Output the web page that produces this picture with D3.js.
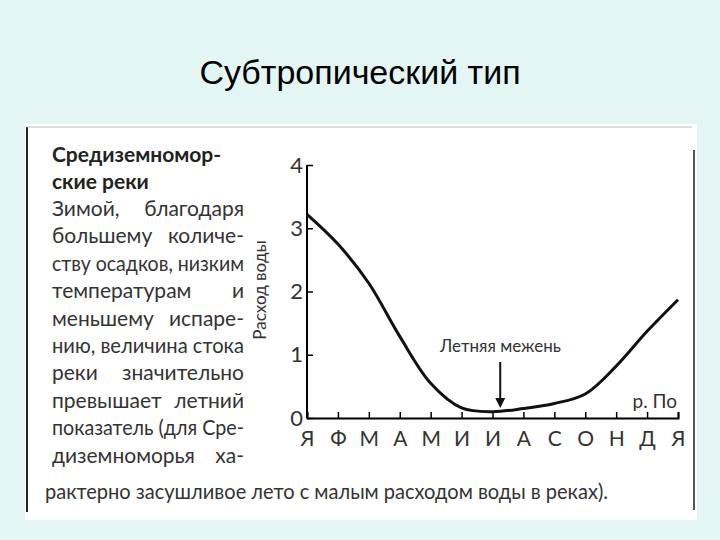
<!DOCTYPE html>
<html><head><meta charset="utf-8">
<script src="https://cdn.jsdelivr.net/npm/d3@7"></script>
<style>body{margin:0;background:#e4f6f4}svg{display:block}</style>
</head><body><svg id="c" width="720" height="540"></svg>
<script>
// months (x ticks) and flow values
var months = ["Я","Ф","М","А","М","И","И","А","С","О","Н","Д","Я"];
var flow = [3.22, 2.75, 2.13, 1.29, 0.55, 0.16, 0.10, 0.15, 0.23, 0.38, 0.82, 1.37, 1.87];
var yTicks = [0, 1, 2, 3, 4];
var textLines = [
  "Зимой, благодаря", "большему количе-", "ству осадков, низким",
  "температурам и", "меньшему испаре-", "нию, величина стока",
  "реки значительно", "превышает летний", "показатель (для Сре-",
  "диземноморья ха-"
];

var svg = d3.select("#c");
svg.append("text").attr("x", 360).attr("y", 84).attr("text-anchor", "middle")
  .style("font-family", "Liberation Sans, Arial").style("font-size", "34px").text("Субтропический тип");

svg.append("rect").attr("x", 25).attr("y", 124).attr("width", 672).attr("height", 396).attr("fill", "#fff");
svg.append("line").attr("x1", 27).attr("x2", 27).attr("y1", 127).attr("y2", 512).attr("stroke", "#222").attr("stroke-width", 2);
svg.append("line").attr("x1", 27).attr("x2", 692).attr("y1", 127).attr("y2", 127).attr("stroke", "#bbb").attr("stroke-width", 1);
svg.append("line").attr("x1", 694).attr("x2", 694).attr("y1", 150).attr("y2", 510).attr("stroke", "#555").attr("stroke-width", 2);

var font = "Lato, DejaVu Sans, sans-serif";
var W = 192;
svg.append("text").attr("x", 52).attr("y", 162).style("font-family", font).style("font-weight", "bold")
  .style("font-size", "21px").attr("fill", "#222").text("Средиземномор-");
svg.append("text").attr("x", 52).attr("y", 189).style("font-family", font).style("font-weight", "bold")
  .style("font-size", "21px").attr("fill", "#222").text("ские реки");
textLines.forEach(function(d, i) {
  var t = svg.append("text").attr("x", 52).attr("y", 216 + i * 27.4).style("font-family", font)
    .style("font-size", "21px").attr("fill", "#333").text(d);
  // justify: widen word gaps, or squeeze if too long
  var w = t.node().getComputedTextLength();
  var gaps = d.split(" ").length - 1;
  if (w > W) t.attr("textLength", W).attr("lengthAdjust", "spacingAndGlyphs");
  else if (gaps > 0) t.attr("word-spacing", (W - w) / gaps);
});
svg.append("text").attr("x", 45).attr("y", 499).style("font-family", font).style("font-size", "21px").attr("fill", "#333")
  .attr("textLength", 563).attr("lengthAdjust", "spacingAndGlyphs").text("рактерно засушливое лето с малым расходом воды в реках).");

var x = d3.scaleLinear().domain([0, 12]).range([307, 678]);
var y = d3.scaleLinear().domain([0, 4]).range([418, 165]);

var gx = svg.append("g").attr("transform", "translate(0,418)")
  .call(d3.axisBottom(x).ticks(12).tickSize(-6).tickFormat(function(d) { return months[d]; }));
gx.select(".domain").attr("stroke-width", 2);
gx.selectAll("line").attr("stroke-width", 1.5);
gx.selectAll("text").attr("dy", "1.2em").style("font-family", font).style("font-size", "21px").attr("fill", "#333");

var gy = svg.append("g").attr("transform", "translate(307,0)")
  .call(d3.axisLeft(y).tickValues(yTicks).tickSize(-6).tickFormat(d3.format("d")));
gy.select(".domain").attr("stroke-width", 2).attr("d", "M0," + y(4) + "V" + y(0));
gy.selectAll("line").attr("stroke-width", 1.5);
gy.selectAll("text").attr("x", -4).style("font-family", font).style("font-size", "22px").attr("fill", "#333");

svg.append("text").attr("transform", "translate(266,290) rotate(-90)").attr("text-anchor", "middle")
  .style("font-family", font).style("font-size", "17px").attr("fill", "#333").text("Расход воды");

var line = d3.line().x(function(d, i) { return x(i); }).y(function(d) { return y(d); }).curve(d3.curveCatmullRom.alpha(0.5));
svg.append("path").datum(flow).attr("d", line).attr("fill", "none").attr("stroke", "#111").attr("stroke-width", 3);

svg.append("text").attr("x", 440).attr("y", 352).style("font-family", font).style("font-size", "17px").attr("fill", "#333").text("Летняя межень");
svg.append("line").attr("x1", x(6.25)).attr("x2", x(6.25)).attr("y1", 362).attr("y2", 402).attr("stroke", "#111").attr("stroke-width", 2);
svg.append("path").attr("d", "M" + (x(6.25) - 5) + ",398L" + x(6.25) + ",408L" + (x(6.25) + 5) + ",398Z").attr("fill", "#111");
svg.append("text").attr("x", 677).attr("y", 408).attr("text-anchor", "end").style("font-family", font).style("font-size", "19px").attr("fill", "#333").text("р. По");
</script></body></html>
